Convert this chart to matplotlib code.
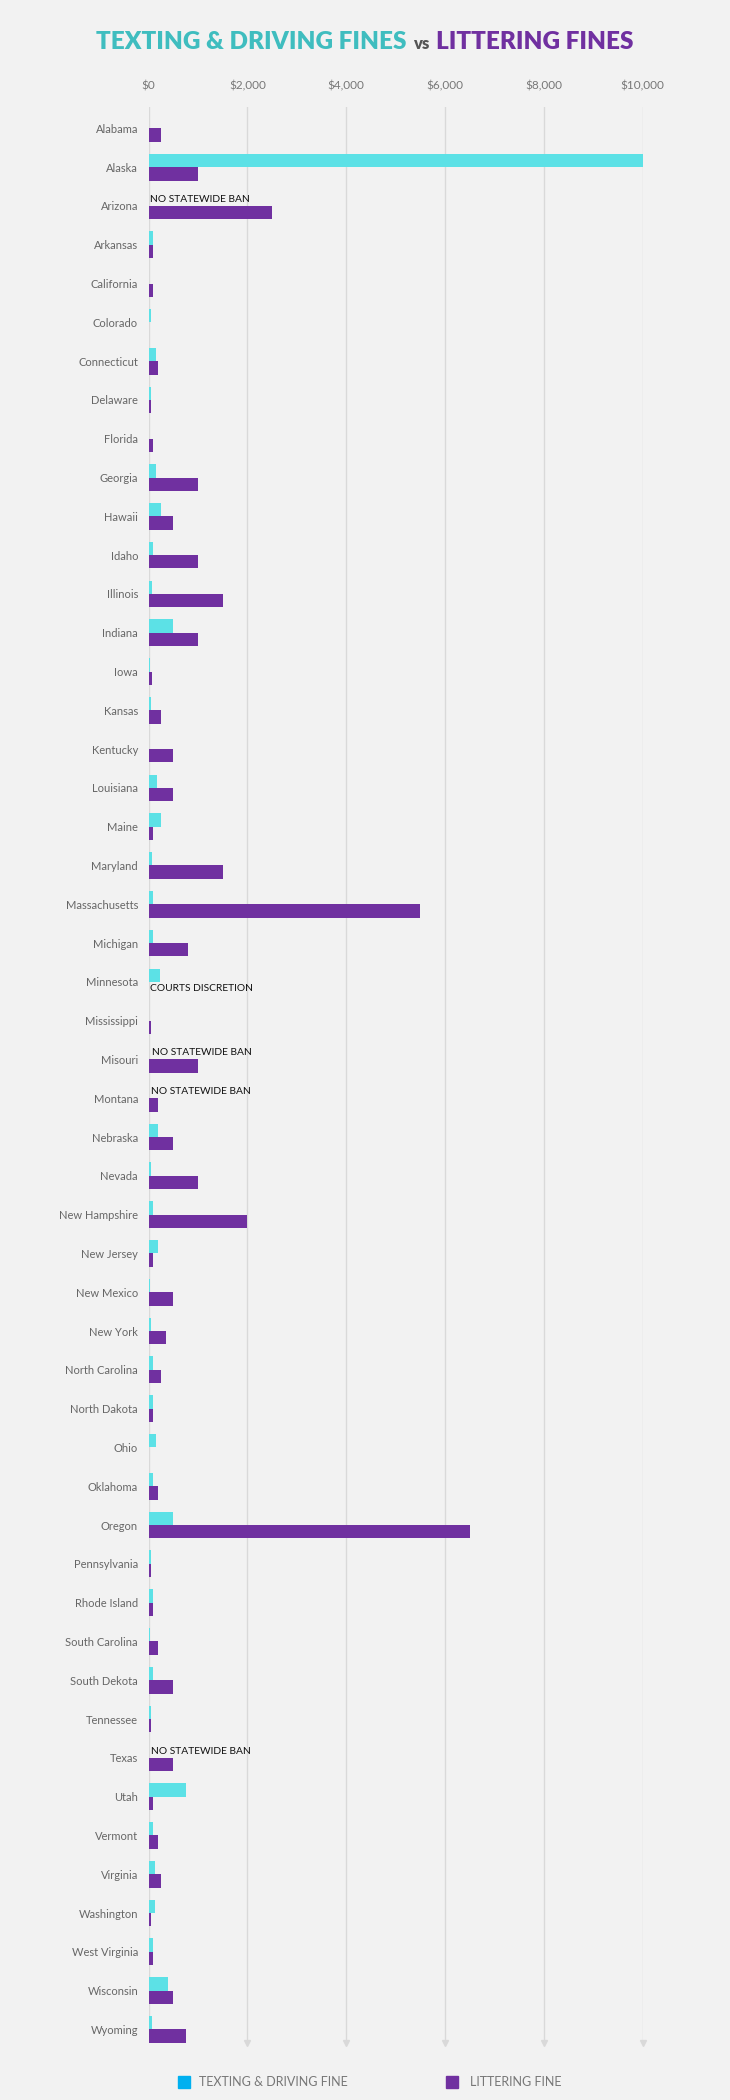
import numpy as np
import matplotlib
matplotlib.use("Agg")
import matplotlib.pyplot as plt

states = ["Alabama", "Alaska", "Arizona", "Arkansas", "California", "Colorado",
          "Connecticut", "Delaware", "Florida", "Georgia", "Hawaii", "Idaho",
          "Illinois", "Indiana", "Iowa", "Kansas", "Kentucky", "Louisiana", "Maine",
          "Maryland", "Massachusetts", "Michigan", "Minnesota", "Mississippi",
          "Misouri", "Montana", "Nebraska", "Nevada", "New Hampshire", "New Jersey",
          "New Mexico", "New York", "North Carolina", "North Dakota", "Ohio",
          "Oklahoma", "Oregon", "Pennsylvania", "Rhode Island", "South Carolina",
          "South Dekota", "Tennessee", "Texas", "Utah", "Vermont", "Virginia",
          "Washington", "West Virginia", "Wisconsin", "Wyoming"]

texting = [20, 10000, None, 100, 20, 50,
           150, 50, 20, 150, 250, 100,
           75, 500, 30, 60, 20, 175, 250,
           70, 100, 100, 225, 20,
           None, None, 200, 50, 100, 200,
           25, 50, 100, 100, 150,
           100, 500, 50, 100, 25,
           100, 50, None, 750, 100, 125,
           124, 100, 400, 75]

littering = [250, 1000, 2500, 100, 100, 0,
             200, 50, 100, 1000, 500, 1000,
             1500, 1000, 70, 250, 500, 500, 100,
             1500, 5500, 800, None, 50,
             1000, 200, 500, 1000, 2000, 100,
             500, 350, 250, 100, 0,
             200, 6500, 50, 100, 200,
             500, 50, 500, 100, 200, 250,
             50, 100, 500, 750]

notes_texting = {"Arizona": "NO STATEWIDE BAN", "Misouri": "NO STATEWIDE BAN",
                 "Montana": "NO STATEWIDE BAN", "Texas": "NO STATEWIDE BAN"}
notes_littering = {"Minnesota": "COURTS DISCRETION"}

xticks = [0, 2000, 4000, 6000, 8000, 10000]
xtick_labels = ["$0", "$2,000", "$4,000", "$6,000", "$8,000", "$10,000"]

BG = "#f2f2f2"
TEAL = "#5ce1e6"
PURPLE = "#7030a0"
TITLE_TEAL = "#3fbdbf"
LEG_BLUE = "#00b0f0"

W, H = 730, 2100
fig = plt.figure(figsize=(W / 100, H / 100), dpi=100, facecolor=BG)
FONT = ["Lato", "DejaVu Sans"]

ax_left, ax_right = 148.5, 642.5
ax_top, ax_bottom = 107.0, 2043.0
ax = fig.add_axes([ax_left / W, 1 - ax_bottom / H, (ax_right - ax_left) / W,
                   (ax_bottom - ax_top) / H])
ax.set_facecolor(BG)

y = np.arange(len(states))
bh = 0.345
t_vals = np.array([np.nan if v is None else v for v in texting], dtype=float)
l_vals = np.array([np.nan if v is None else v for v in littering], dtype=float)
ax.barh(y - bh / 2, np.nan_to_num(t_vals), height=bh, color=TEAL, zorder=3)
ax.barh(y + bh / 2, np.nan_to_num(l_vals), height=bh, color=PURPLE, zorder=3)

note_x = {"Arizona": 30, "Misouri": 75, "Montana": 50, "Texas": 50, "Minnesota": 30}
for i, s in enumerate(states):
    if s in notes_texting:
        ax.text(note_x[s], i - bh / 2, notes_texting[s], fontsize=7.4, family=FONT,
                color="#111111", va="center", ha="left", zorder=4)
    if s in notes_littering:
        ax.text(note_x[s], i + bh / 2, notes_littering[s], fontsize=7.4, family=FONT,
                color="#111111", va="center", ha="left", zorder=4)

ax.set_xlim(0, 10000)
ax.set_ylim(49.35, -0.55)
ax.set_yticks(y)
ax.set_yticklabels(states, family=FONT, fontsize=8, color="#666666")
ax.tick_params(axis="y", length=0, pad=7.5)
ax.xaxis.tick_top()
ax.set_xticks(xticks)
ax.set_xticklabels(xtick_labels, family=FONT, fontsize=8.5, color="#777777")
ax.tick_params(axis="x", length=0, pad=11)
for sp in ax.spines.values():
    sp.set_visible(False)
ax.grid(axis="x", color="#d9d9d9", lw=1.0, zorder=0)
ax.set_axisbelow(True)
ax.plot(xticks[1:], [49.35] * (len(xticks) - 1), "v", color="#d9d9d9",
        markersize=4, clip_on=False, zorder=1)

# Title in three colored pieces, centered on figure
fig.canvas.draw()
renderer = fig.canvas.get_renderer()
pieces = [("TEXTING & DRIVING FINES", TITLE_TEAL, 17.5, 6),
          ("vs", "#555555", 12, 7),
          ("LITTERING FINES", PURPLE, 17.5, 0)]
texts = []
widths = []
for txt, col, fs, gap in pieces:
    t = fig.text(0, 1 - 49.0 / H, txt, color=col, fontsize=fs, family=FONT,
                 weight="heavy", ha="left", va="baseline")
    widths.append(t.get_window_extent(renderer).width + gap)
    texts.append(t)
x = (W - sum(widths)) / 2
for t, w in zip(texts, widths):
    t.set_x(x / W)
    x += w

# Legend
ly = 2081.5
fig.patches.append(plt.Rectangle((178 / W, 1 - 2088 / H), 12 / W, 12 / H,
                                 transform=fig.transFigure, color=LEG_BLUE, figure=fig))
fig.text(199 / W, 1 - ly / H, "TEXTING & DRIVING FINE", family=FONT, fontsize=9,
         color="#777777", va="center", ha="left")
fig.patches.append(plt.Rectangle((446 / W, 1 - 2088 / H), 12 / W, 12 / H,
                                 transform=fig.transFigure, color=PURPLE, figure=fig))
fig.text(470 / W, 1 - ly / H, "LITTERING FINE", family=FONT, fontsize=9,
         color="#777777", va="center", ha="left")

fig.savefig("out.png", dpi=100, facecolor=BG)
